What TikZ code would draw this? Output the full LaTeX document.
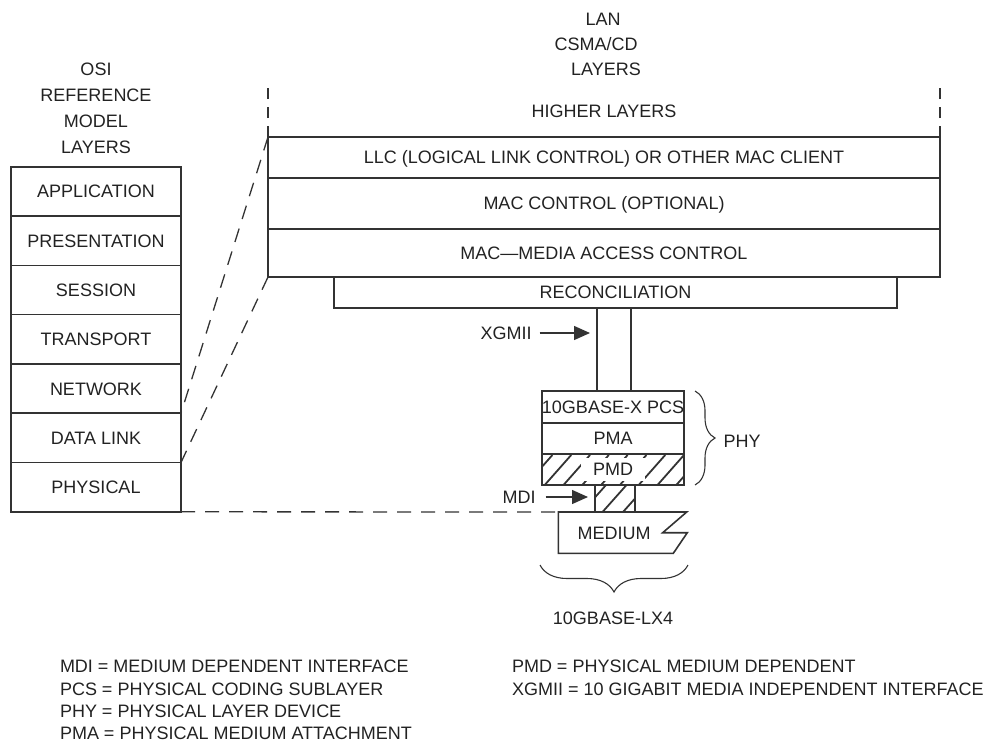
\documentclass[tikz,border=0pt]{standalone}
\usepackage{fontspec}
\setmainfont{Liberation Sans}
\usetikzlibrary{positioning, arrows.meta, decorations.pathreplacing}
\definecolor{linecol}{HTML}{333333}
\definecolor{textcol}{HTML}{222222}
\tikzset{
  caplbl/.style={inner sep=0pt, outer sep=0pt, text height=12.9pt, text depth=0pt},
  laybox/.style={caplbl, draw=linecol, line width=1.6pt},
  osibox/.style={laybox, minimum width=170pt, minimum height=49.3pt},
  lanbox/.style={laybox, minimum width=672pt},
  phybox/.style={laybox, minimum width=142pt},
  dashln/.style={draw=linecol, line width=1.3pt, dash pattern=on 14pt off 10pt},
  vdashln/.style={draw=linecol, line width=1.3pt, dash pattern=on 11pt off 8pt},
  hatchln/.style={draw=linecol, line width=1.8pt},
  arr/.style={draw=linecol, line width=1.4pt, -{Triangle[length=16pt,width=14pt]}},
  bracesty/.style={draw=linecol, line width=1.1pt, decorate},
  leg/.style={caplbl, anchor=west}
}

\begin{document}
\begin{tikzpicture}[x=1pt, y=-1pt, font=\fontsize{18}{21}\selectfont, text=textcol]
    \useasboundingbox (0,0) rectangle (998,744);
    % OSI reference model
    \node[caplbl] (osi) at (96,69) {OSI};
    \node[caplbl] (osiref) at (96,95) {REFERENCE};
    \node[caplbl] (osimodel) at (96,121) {MODEL};
    \node[caplbl] (osilay) at (96,147) {LAYERS};
    \node[osibox] (app) at (96,191.35) {APPLICATION};
    \node[osibox, below=0pt of app] (pres) {PRESENTATION};
    \node[osibox, below=0pt of pres] (sess) {SESSION};
    \node[osibox, below=0pt of sess] (trans) {TRANSPORT};
    \node[osibox, below=0pt of trans] (net) {NETWORK};
    \node[osibox, below=0pt of net] (dl) {DATA LINK};
    \node[osibox, below=0pt of dl] (phys) {PHYSICAL};

    % LAN CSMA/CD layers
    \node[caplbl] (lan) at (603,19) {LAN};
    \node[caplbl] (csma) at (596,44) {CSMA/CD};
    \node[caplbl] (lanlay) at (606,69) {LAYERS};
    \node[caplbl] (higher) at (604,111) {HIGHER LAYERS};
    \node[lanbox, minimum height=41pt] (llc) at (604,157.5) {LLC (LOGICAL LINK CONTROL) OR OTHER MAC CLIENT};
    \node[lanbox, minimum height=51pt, below=0pt of llc] (macctl) {MAC CONTROL (OPTIONAL)};
    \node[lanbox, minimum height=48pt, below=0pt of macctl] (mac) {MAC---MEDIA ACCESS CONTROL};
    \node[laybox, minimum width=563pt, minimum height=31pt] (recon) at (615.5,292.5) {RECONCILIATION};

    % XGMII
    \node[laybox, minimum width=34pt, minimum height=83pt] (bus) at (614,349.5) {};
    \node[caplbl] (xgmiilbl) at (506,333) {XGMII};
    \draw[arr, shorten <=8pt, shorten >=7pt] (xgmiilbl.east) -- (xgmiilbl.east -| bus.west);

    % PHY
    \node[phybox, minimum height=32pt] (pcs) at (613,407) {10GBASE-X PCS};
    \node[phybox, minimum height=31pt, below=0pt of pcs] (pma) {PMA};
    \node[phybox, minimum height=31pt, below=0pt of pma] (pmd) {};
    \begin{scope}
        \clip (pmd.south west) rectangle (pmd.north east);
        \foreach \k in {-1,...,7}
            \draw[hatchln] ({544.7+18.8*\k},485) -- ++(26.5,-30);
    \end{scope}
    \node[caplbl, fill=white, inner xsep=12pt, inner ysep=5pt] (pmdlbl) at (pmd) {PMD};

    % MDI
    \node[laybox, minimum width=40pt, minimum height=27pt] (mdibox) at (615,498.5) {};
    \begin{scope}
        \clip (mdibox.south west) rectangle (mdibox.north east);
        \foreach \x in {582,602.5,623}
            \draw[hatchln] (\x,512) -- ++(24,-27);
    \end{scope}
    \node[caplbl] (mdilbl) at (519,497) {MDI};
    \draw[arr, shorten <=10pt, shorten >=7pt] (mdilbl.east) -- (mdilbl.east -| mdibox.west);

    % medium
    \coordinate (medtl) at (558.3,512);
    \draw[draw=linecol, line width=1.6pt] (medtl) -- (686.7,512) -- (662.7,532.7) -- (687.3,532.7)
        -- (673.3,553.3) -- (558.3,553.3) -- cycle;
    \node[caplbl] (medium) at (614,533) {MEDIUM};

    % dashed correspondences
    \coordinate (hightl) at ([yshift=50pt]llc.north west);
    \coordinate (hightr) at ([yshift=50pt]llc.north east);
    \draw[vdashln] (llc.north west) -- (hightl);
    \draw[vdashln] (llc.north east) -- (hightr);
    \draw[dashln] (llc.north west) -- (dl.north east);
    \draw[dashln] (mac.south west) -- (dl.south east);
    \draw[dashln] (phys.south east) -- (medtl);

    % braces
    \draw[bracesty, decoration={brace, amplitude=20pt}] ([xshift=11pt]pcs.north east) -- ([xshift=11pt]pmd.south east);
    \node[caplbl] (phy) at (742,441) {PHY};
    \draw[bracesty, decoration={brace, amplitude=27pt}] (688,565) -- (540,565);
    \node[caplbl] (lx4) at (613,618) {10GBASE-LX4};

    % legend
    \node[leg] (lgmdi) at (60,666.5) {MDI = MEDIUM DEPENDENT INTERFACE};
    \node[leg] (lgpcs) at (60,688.7) {PCS = PHYSICAL CODING SUBLAYER};
    \node[leg] (lgphy) at (60,711) {PHY = PHYSICAL LAYER DEVICE};
    \node[leg] (lgpma) at (60,733) {PMA = PHYSICAL MEDIUM ATTACHMENT};
    \node[leg] (lgpmd) at (512,666.5) {PMD = PHYSICAL MEDIUM DEPENDENT};
    \node[leg] (lgxgmii) at (512,688.7) {XGMII = 10 GIGABIT MEDIA INDEPENDENT INTERFACE};
\end{tikzpicture}
\end{document}
